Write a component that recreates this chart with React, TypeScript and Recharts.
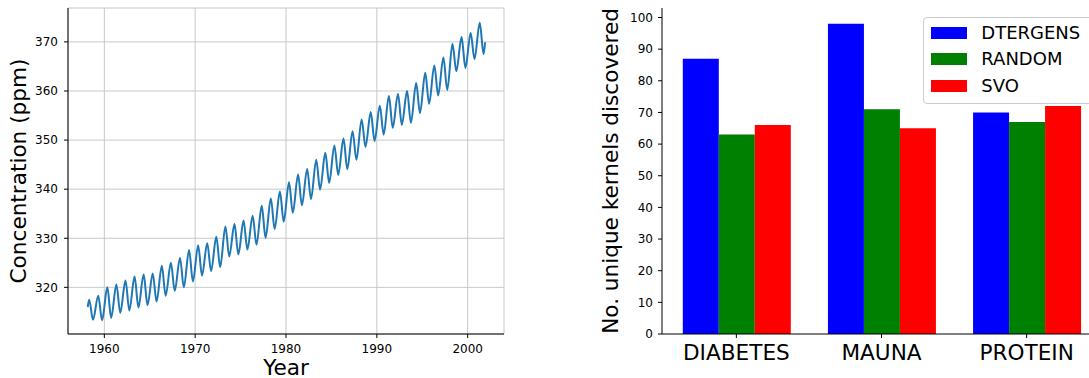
import React from "react";
import { LineChart, Line, BarChart, Bar, XAxis, YAxis, CartesianGrid, Legend } from "recharts";

// Mauna Loa CO2 (ppm) - seasonal high (~May) and low (~Oct) per year
const co2Years = [
  1958, 1959, 1960, 1961, 1962, 1963, 1964, 1965, 1966, 1967,
  1968, 1969, 1970, 1971, 1972, 1973, 1974, 1975, 1976, 1977,
  1978, 1979, 1980, 1981, 1982, 1983, 1984, 1985, 1986, 1987,
  1988, 1989, 1990, 1991, 1992, 1993, 1994, 1995, 1996, 1997,
  1998, 1999, 2000, 2001,
];
const co2MayPeak = [
  317.5, 318.3, 320.0, 320.6, 321.4, 322.2, 322.6, 322.8, 324.4, 325.0,
  326.0, 327.6, 328.6, 329.0, 330.3, 332.4, 332.9, 333.6, 334.6, 336.6,
  338.1, 339.5, 341.4, 343.0, 344.1, 346.0, 347.4, 348.9, 350.3, 351.8,
  354.2, 355.7, 357.0, 359.0, 359.4, 360.0, 361.6, 363.7, 365.2, 366.8,
  369.6, 371.0, 371.8, 373.9,
];
const co2OctLow = [
  313.4, 313.3, 313.8, 314.8, 315.3, 315.9, 316.4, 317.1, 318.3, 319.3,
  320.0, 321.2, 322.4, 323.3, 324.1, 326.3, 326.7, 327.7, 328.7, 330.1,
  331.9, 333.4, 335.2, 336.7, 338.0, 339.9, 341.3, 342.9, 344.1, 346.0,
  348.6, 349.8, 351.1, 352.5, 353.1, 353.5, 355.5, 357.4, 359.1, 360.2,
  364.0, 364.7, 366.5, 367.5,
];
const co2FirstReading = 316.0; // Mar 1958
const co2LastReading = 369.9; // Dec 2001

const yearTicks = [1960, 1970, 1980, 1990, 2000];
const ppmTicks = [320, 330, 340, 350, 360, 370];

const datasets = ["DIABETES", "MAUNA", "PROTEIN"];
const dtergens = [87, 98, 70];
const random = [63, 71, 67];
const svo = [66, 65, 72];
const countTicks = [0, 10, 20, 30, 40, 50, 60, 70, 80, 90, 100];

const co2Data = [
  { t: 1958.17, v: co2FirstReading },
  ...co2Years.flatMap((y, i) => [
    { t: y + 0.33, v: co2MayPeak[i] },
    { t: y + 0.75, v: co2OctLow[i] },
  ]),
  { t: 2001.92, v: co2LastReading },
];

const barData = datasets.map((name, i) => ({
  name,
  DTERGENS: dtergens[i],
  RANDOM: random[i],
  SVO: svo[i],
}));

const BIG = 21.6;
const SMALL = 12;

const yLabel = (text: string, baseX: number) => (props: any) => {
  const vb = props?.viewBox ?? { x: 0, y: 8, width: 0, height: 326 };
  const x = vb.x + baseX;
  const y = vb.y + vb.height / 2;
  return (
    <text x={x} y={y} transform={`rotate(-90, ${x}, ${y})`} textAnchor="middle" fontSize={BIG} fill="#000">
      {text}
    </text>
  );
};

const xLabel = (text: string) => (props: any) => {
  const vb = props?.viewBox ?? { x: 68, y: 334, width: 436, height: 44 };
  return (
    <text x={vb.x + vb.width / 2} y={vb.y + 40.5} textAnchor="middle" fontSize={BIG} fill="#000">
      {text}
    </text>
  );
};

const renderLegend = (props: any) => (
  <div
    style={{
      border: "1px solid #cccccc",
      borderRadius: 4,
      background: "rgba(255,255,255,0.8)",
      padding: "1px 10px 4px 7px",
      width: 160,
    }}
  >
    {(props.payload || []).map((entry: any) => (
      <div key={entry.value} style={{ display: "flex", alignItems: "center", height: 26.7 }}>
        <span style={{ display: "inline-block", width: 36, height: 12, background: entry.color, marginRight: 14 }} />
        <span style={{ fontSize: 18, lineHeight: "18px", color: "#000" }}>{entry.value}</span>
      </div>
    ))}
  </div>
);

export default function App() {
  return (
    <div
      style={{
        position: "fixed",
        left: 0,
        top: 0,
        width: 1089,
        height: 378,
        overflow: "hidden",
        background: "#fff",
        fontFamily: "'DejaVu Sans', sans-serif",
      }}
    >
      <div style={{ position: "absolute", left: 0, top: 0 }}>
        <LineChart width={520} height={378} data={co2Data} margin={{ top: 8, right: 16, bottom: 0, left: 0 }}>
          <CartesianGrid stroke="#c8c8c8" strokeWidth={1} />
          <XAxis
            dataKey="t"
            type="number"
            domain={[1956, 2004]}
            ticks={yearTicks}
            allowDataOverflow
            height={44}
            tickSize={4}
            tickMargin={6}
            stroke="#000"
            tick={{ fontSize: SMALL, fill: "#000" }}
            label={xLabel("Year")}
          />
          <YAxis
            type="number"
            domain={[310.5, 376.9]}
            ticks={ppmTicks}
            allowDataOverflow
            width={68}
            tickSize={4}
            tickMargin={6}
            stroke="#000"
            tick={{ fontSize: SMALL, fill: "#000" }}
            label={yLabel("Concentration (ppm)", 25.5)}
          />
          <XAxis xAxisId="frame" orientation="top" type="number" domain={[1956, 2004]} height={0} tick={false} tickLine={false} axisLine={{ stroke: "#000" }} />
          <YAxis yAxisId="frame" orientation="right" type="number" domain={[310.5, 376.9]} width={0} tick={false} tickLine={false} axisLine={{ stroke: "#000" }} />
          <Line type="monotone" dataKey="v" stroke="#1f77b4" strokeWidth={2} dot={false} isAnimationActive={false} />
        </LineChart>
      </div>
      <div style={{ position: "absolute", left: 520, top: 0 }}>
        <BarChart width={581} height={378} data={barData} barGap={0} margin={{ top: 8, right: 0, bottom: 0, left: 0 }}>
          <XAxis
            dataKey="name"
            interval={0}
            padding={{ left: 1.8, right: 1.8 }}
            height={44}
            tickSize={4}
            tickMargin={6.7}
            stroke="#000"
            tick={{ fontSize: BIG, fill: "#000" }}
          />
          <YAxis
            type="number"
            domain={[0, 103]}
            ticks={countTicks}
            allowDataOverflow
            width={142}
            tickSize={4}
            tickMargin={5}
            stroke="#000"
            tick={{ fontSize: SMALL, fill: "#000" }}
            label={yLabel("No. unique kernels discovered", 98)}
          />
          <XAxis xAxisId="frame" dataKey="name" orientation="top" height={0} tick={false} tickLine={false} axisLine={{ stroke: "#000" }} />
          <Legend
            layout="vertical"
            align="center"
            verticalAlign="middle"
            content={renderLegend}
            wrapperStyle={{ left: 403.3, top: 17.3, width: 180 }}
          />
          <Bar dataKey="DTERGENS" fill="#0000ff" barSize={36} isAnimationActive={false} />
          <Bar dataKey="RANDOM" fill="#008000" barSize={36} isAnimationActive={false} />
          <Bar dataKey="SVO" fill="#ff0000" barSize={36} isAnimationActive={false} />
        </BarChart>
      </div>
    </div>
  );
}
